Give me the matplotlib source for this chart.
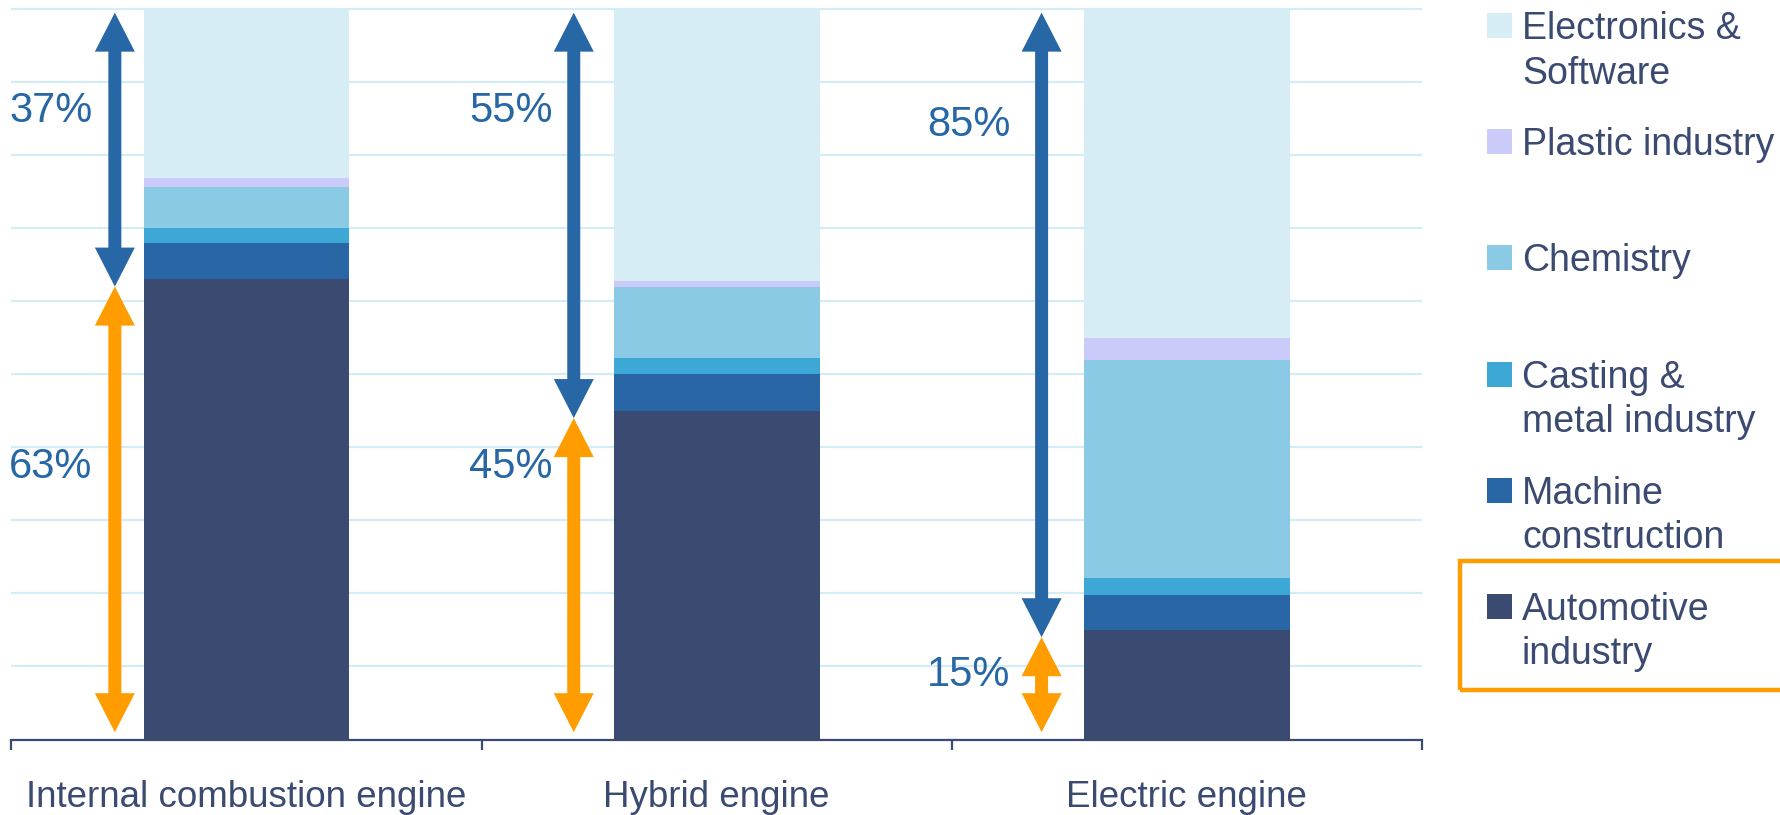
import matplotlib
matplotlib.use("Agg")
import matplotlib.pyplot as plt
from matplotlib.patches import Polygon, Rectangle

# ---- data -------------------------------------------------------------
categories = ["Internal combustion engine", "Hybrid engine", "Electric engine"]
automotive = [63.0, 45.0, 15.0]
machine = [5.0, 5.0, 4.8]
casting = [2.0, 2.2, 2.3]
chemistry = [5.7, 9.8, 29.9]
plastic = [1.1, 0.8, 3.0]
electronics = [23.2, 37.2, 45.0]

series_values = [automotive, machine, casting, chemistry, plastic, electronics]
series_labels = ["Automotive\nindustry", "Machine\nconstruction", "Casting &\nmetal industry",
                 "Chemistry", "Plastic industry", "Electronics &\nSoftware"]
series_colors = ["#3A4A70", "#2866A6", "#3DA7D6", "#8BCAE4", "#CBCBF9", "#D7EDF5"]

NAVY = "#3A4A70"
BLUE = "#2767A6"
ORANGE = "#FF9C00"
GRID = "#D3ECF6"
FONT = ["Liberation Sans", "DejaVu Sans"]

W, H = 1781, 815
fig = plt.figure(figsize=(W / 100, H / 100), dpi=100)

# axes placed in pixel units
x0, x1 = 11.4, 1422.0
y_bottom, y_top = 739.5, 5.0
y_max = 100 * (y_bottom - y_top) / (y_bottom - 9.0)
ax = fig.add_axes([x0 / W, 1 - y_bottom / H, (x1 - x0) / W, (y_bottom - y_top) / H])
ax.set_xlim(-0.5, 2.5)
ax.set_ylim(0, y_max)
px_per_x = (x1 - x0) / 3.0
px_per_y = (y_bottom - y_top) / y_max

# stacked bars
bar_w = 0.438
bottoms = [0.0] * len(categories)
for vals, col in zip(series_values, series_colors):
    ax.bar(range(len(categories)), vals, width=bar_w, bottom=bottoms,
           color=col, edgecolor="none", zorder=2)
    bottoms = [b + v for b, v in zip(bottoms, vals)]

# grid and axes styling
ax.set_yticks(range(0, 101, 10))
ax.yaxis.grid(True, color=GRID, linewidth=1.6, zorder=0)
ax.set_axisbelow(True)
ax.tick_params(axis="y", left=False, labelleft=False)
for side in ("left", "right", "top"):
    ax.spines[side].set_visible(False)
ax.spines["bottom"].set_color(NAVY)
ax.spines["bottom"].set_linewidth(1.6)
ax.spines["bottom"].set_zorder(3)

ax.set_xticks([-0.5, 0.5, 1.5, 2.5])
ax.set_xticklabels([])
ax.tick_params(axis="x", which="major", direction="out", length=7, width=1.6, color=NAVY)
ax.set_xticks(range(len(categories)), minor=True)
ax.set_xticklabels(categories, minor=True, fontsize=26.5, color=NAVY, family=FONT)
ax.tick_params(axis="x", which="minor", length=0, pad=29)

# share arrows: new suppliers (blue) vs. traditional automotive (orange)
arrow_dx = [-0.28, -0.304, -0.309]
label_dx = [-0.328, -0.349, -0.375]
upper_label_y = [86.7, 86.7, 84.7]
lower_label_y = [37.9, 37.9, 9.5]

head_half = 20.0 / px_per_x
shaft_half = 6.5 / px_per_x
head_len = 39.0 / px_per_y


def double_arrow(x, y_hi, y_lo, color):
    pts = [
        (x, y_hi),
        (x + head_half, y_hi - head_len),
        (x + shaft_half, y_hi - head_len),
        (x + shaft_half, y_lo + head_len),
        (x + head_half, y_lo + head_len),
        (x, y_lo),
        (x - head_half, y_lo + head_len),
        (x - shaft_half, y_lo + head_len),
        (x - shaft_half, y_hi - head_len),
        (x - head_half, y_hi - head_len),
    ]
    ax.add_patch(Polygon(pts, closed=True, facecolor=color, edgecolor="none",
                         zorder=4, clip_on=False))


for i, share in enumerate(automotive):
    x = i + arrow_dx[i]
    split = share - 1.0
    double_arrow(x, 99.5, split, BLUE)
    double_arrow(x, split, 1.0, ORANGE)
    ax.text(i + label_dx[i], upper_label_y[i], f"{100 - share:.0f}%", ha="right",
            va="center_baseline", fontsize=30, color=BLUE, family=FONT)
    ax.text(i + label_dx[i], lower_label_y[i], f"{share:.0f}%", ha="right",
            va="center_baseline", fontsize=30, color=BLUE, family=FONT)


# legend, top entry first
def fx(px):
    return px / W


def fy(py):
    return 1 - py / H


first_baseline = 39.0
entry_step = 116.2
line_step = 44.5
marker_x = 1487.0
marker_size = 25.0
text_x = 1522.0
cap = 13.5
for k, idx in enumerate(range(len(series_labels) - 1, -1, -1)):
    base = first_baseline + k * entry_step
    fig.patches.append(Rectangle((fx(marker_x), fy(base - cap + marker_size / 2)),
                                 marker_size / W, marker_size / H,
                                 transform=fig.transFigure, facecolor=series_colors[idx],
                                 edgecolor="none"))
    for j, line in enumerate(series_labels[idx].split("\n")):
        fig.text(fx(text_x), fy(base + j * line_step), line, ha="left", va="baseline",
                 fontsize=27, color=NAVY, family=FONT)

# highlight box around the automotive entry
fig.patches.append(Rectangle((fx(1460), fy(690)), (1800 - 1460) / W, (690 - 561) / H,
                             transform=fig.transFigure, fill=False,
                             edgecolor=ORANGE, linewidth=3.2))

fig.savefig("out.png", dpi=100)
